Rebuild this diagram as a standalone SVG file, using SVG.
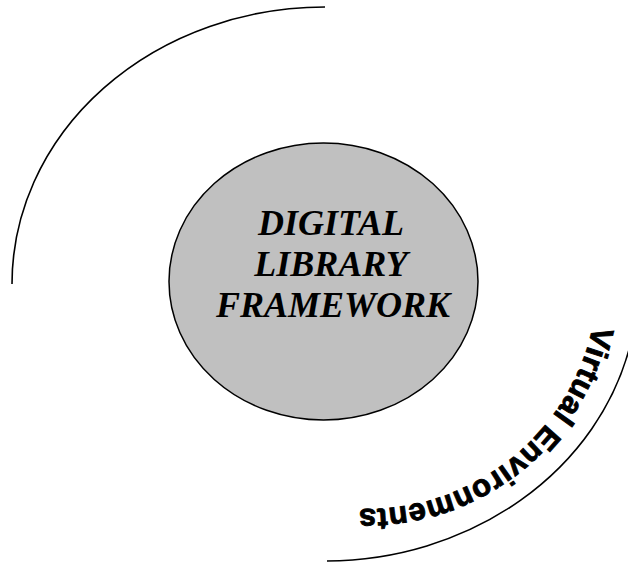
<svg xmlns="http://www.w3.org/2000/svg" xmlns:xlink="http://www.w3.org/1999/xlink" width="628" height="563" viewBox="0 0 628 563">
  <style>
    .arc { fill: none; stroke: #000; stroke-width: 1.6; }
    .core { fill: #c0c0c0; stroke: #000; stroke-width: 1.5; }
    .core-label { font-family: "Liberation Serif", "Times New Roman", serif; font-weight: bold; font-style: italic; font-size: 36px; fill: #000; text-anchor: middle; }
    .ring-label { font-family: "Liberation Sans", Arial, sans-serif; font-weight: bold; font-size: 31px; fill: #000; stroke: #000; stroke-width: 0.9; letter-spacing: 0.6px; }
  </style>
  <defs>
    <!-- baseline for the curved outer label, running clockwise -->
    <path id="ringPath" d="M 593,325.6 A 231 231 0 0 1 326.9,505.5"/>
  </defs>

  <!-- outer ring drawn as two open arcs -->
  <g id="arcs">
    <path class="arc" d="M 325,7 A 313 277 0 0 0 12,284"/>
    <path class="arc" d="M 630,346 A 313 277 0 0 1 327,561"/>
  </g>

  <g id="digital-library-framework">
    <ellipse class="core" cx="323.5" cy="281.5" rx="154.5" ry="138.5"/>
    <text class="core-label" x="331" y="235">DIGITAL</text>
    <text class="core-label" x="331" y="276">LIBRARY</text>
    <text class="core-label" x="333" y="317">FRAMEWORK</text>
  </g>

  <g id="virtual-environments">
    <text class="ring-label"><textPath xlink:href="#ringPath" href="#ringPath">Virtual Environments</textPath></text>
  </g>
</svg>
